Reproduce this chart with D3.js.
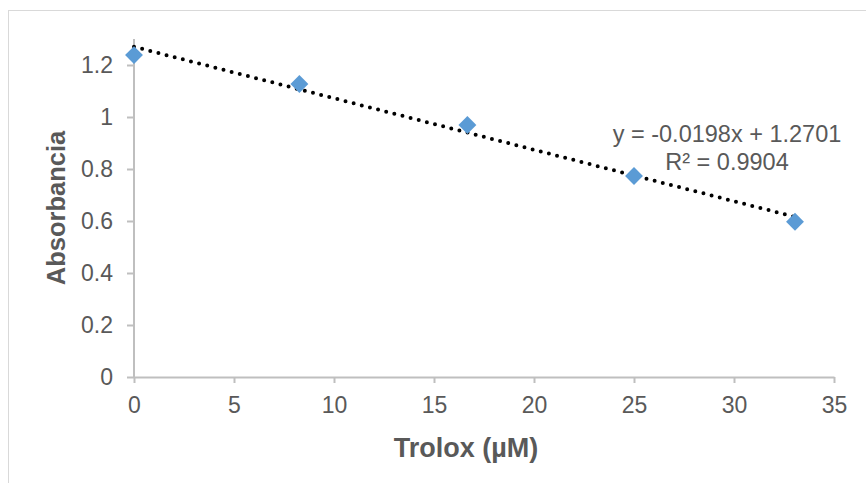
<!DOCTYPE html>
<html>
<head>
<meta charset="utf-8">
<script src="https://cdn.jsdelivr.net/npm/d3@7"></script>
<style>
  body { margin: 0; background: #fff; }
  svg text { font-family: "Liberation Sans", Arial, sans-serif; fill: #595959; }
</style>
</head>
<body>
<div id="chart"></div>
<script>
// data
let troloxVals = [0, 8.27, 16.67, 25, 33.05];
let absVals = [1.238, 1.127, 0.969, 0.773, 0.597];
let xTicks = [0, 5, 10, 15, 20, 25, 30, 35];
let yTicks = [0, 0.2, 0.4, 0.6, 0.8, 1, 1.2];
let trend = {slope: -0.0198, intercept: 1.2701};
let eqLines = ['y = -0.0198x + 1.2701', 'R² = 0.9904'];

let sizes = {width: 866, height: 483};
let margin = {left: 134, right: 32, top: 39, bottom: 106};

let svg = d3.select('#chart')
    .append('svg')
    .attr('width', sizes.width)
    .attr('height', sizes.height);

// chart frame
svg.append('rect')
    .attr('x', 8.5).attr('y', 10.5)
    .attr('width', 900).attr('height', 500)
    .attr('fill', 'none')
    .attr('stroke', '#d9d9d9');

let x = d3.scaleLinear()
    .domain([0, 35])
    .range([margin.left, sizes.width - margin.right]);
let y = d3.scaleLinear()
    .domain([0, 1.3])
    .range([sizes.height - margin.bottom, margin.top]);

let xAxis = svg.append('g')
    .attr('transform', 'translate(0,' + y(0) + ')')
    .call(d3.axisBottom(x).tickValues(xTicks).tickSize(6).tickPadding(14).tickSizeOuter(0));
let yAxis = svg.append('g')
    .attr('transform', 'translate(' + x(0) + ',0)')
    .call(d3.axisLeft(y).tickValues(yTicks).tickSize(7).tickPadding(14).tickSizeOuter(0)
        .tickFormat(d => d3.format('~g')(d)));

[xAxis, yAxis].forEach(ax => {
    ax.select('.domain').attr('stroke', '#bfbfbf').attr('stroke-width', 2);
    ax.selectAll('.tick line').attr('stroke', '#bfbfbf').attr('stroke-width', 2);
    ax.selectAll('.tick text')
        .style('font-size', '23px')
        .attr('fill', '#595959');
});
// y axis runs to top of domain
yAxis.select('.domain').attr('d', 'M0,' + y(0) + 'V' + y(1.3));

// trendline
let xEnd = d3.max(troloxVals);
svg.append('line')
    .attr('x1', x(0)).attr('y1', y(trend.intercept))
    .attr('x2', x(xEnd)).attr('y2', y(trend.intercept + trend.slope * xEnd))
    .attr('stroke', '#000')
    .attr('stroke-width', 4)
    .attr('stroke-linecap', 'round')
    .attr('stroke-dasharray', '0 8.4');

// markers
svg.selectAll('path.pt')
    .data(troloxVals)
    .enter()
    .append('path')
    .attr('class', 'pt')
    .attr('d', d3.symbol().type(d3.symbolSquare).size(160))
    .attr('transform', (d, i) => 'translate(' + x(d) + ',' + y(absVals[i]) + ') rotate(45)')
    .attr('fill', '#5b9bd5');

// equation label
svg.selectAll('text.eq')
    .data(eqLines)
    .enter()
    .append('text')
    .attr('class', 'eq')
    .attr('x', 727)
    .attr('y', (d, i) => 142 + i * 28)
    .attr('text-anchor', 'middle')
    .style('font-size', '23.5px')
    .text(d => d);

// axis titles
svg.append('text')
    .attr('x', 466).attr('y', 457)
    .attr('text-anchor', 'middle')
    .style('font-size', '27px')
    .style('font-weight', 'bold')
    .text('Trolox (µM)');
svg.append('text')
    .attr('transform', 'translate(65,208) rotate(-90)')
    .attr('text-anchor', 'middle')
    .style('font-size', '25.5px')
    .style('font-weight', 'bold')
    .text('Absorbancia');
</script>
</body>
</html>
